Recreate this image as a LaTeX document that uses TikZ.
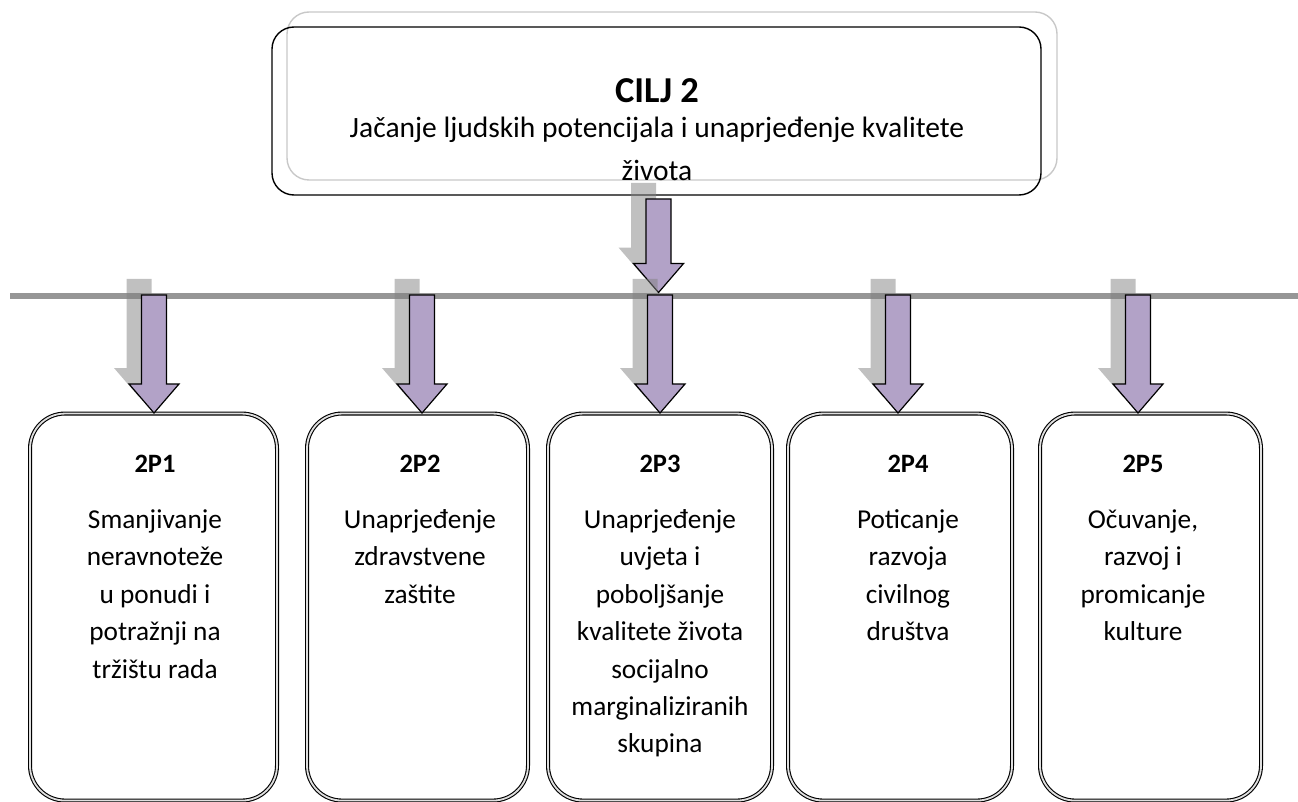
\documentclass[tikz,border=0pt]{standalone}
\usepackage{fontspec}
\setmainfont{Carlito}
\usetikzlibrary{calc}
\definecolor{arrowc}{HTML}{B2A2C7}
\definecolor{shadowc}{HTML}{818181}
\definecolor{barc}{HTML}{969696}
\definecolor{ghostc}{HTML}{C8C8C8}
\tikzset{
  goalbox/.style={draw=black, line width=1.4pt, rounded corners=22pt, inner sep=0pt},
  ghostbox/.style={draw=ghostc, line width=1.4pt, rounded corners=22pt},
  prbox/.style={draw=black, line width=1.1pt, double=gray!25, double distance=1.8pt,
    rounded corners=35pt, minimum height=387pt, inner sep=0pt, anchor=north},
  prtitle/.style={font=\bfseries\fontsize{26.5}{30}\selectfont, anchor=base, inner sep=0pt},
  prtext/.style={font=\fontsize{27.3}{37.45}\selectfont, align=center, anchor=north, inner sep=0pt},
  bigtitle/.style={font=\bfseries\fontsize{36.5}{40}\selectfont, anchor=base, inner sep=0pt},
  bigtext/.style={font=\fontsize{29.5}{43}\selectfont, align=center, anchor=north, inner sep=0pt},
}
\newcommand\blockarrow[2]{%
  \fill[shadowc, opacity=.5] let \p1=(#1), \p2=(#2) in
    (\x1-27.5pt,\y1+16pt) -- (\x1-2.5pt,\y1+16pt) -- (\x1-2.5pt,\y2+45pt)
    -- (\x1+10pt,\y2+45pt) -- (\x1-15pt,\y2+16pt) -- (\x1-40pt,\y2+45pt)
    -- (\x1-27.5pt,\y2+45pt) -- cycle;
  \filldraw[fill=arrowc, draw=black, line width=1.2pt, line join=miter] let \p1=(#1), \p2=(#2) in
    (\x1-12.5pt,\y1) -- (\x1+12.5pt,\y1) -- (\x1+12.5pt,\y2+29pt)
    -- (\x1+25pt,\y2+29pt) -- (\x1,\y2) -- (\x1-25pt,\y2+29pt)
    -- (\x1-12.5pt,\y2+29pt) -- cycle;
}
\begin{document}
\begin{tikzpicture}[x=1pt,y=-1pt]
\useasboundingbox (0,0) rectangle (1298,802);
% top goal box
\draw[ghostbox] (287,12) rectangle (1057,180);
\node[goalbox, minimum width=769pt, minimum height=168pt] (goal) at (656.5,111) {};
\node[bigtitle] (goalt) at (657,103) {CILJ 2};
\node[bigtext] (goald) at (657,137-30.1) {\strut Jačanje ljudskih potencijala i unaprjeđenje kvalitete\\života};
% horizontal bar
\node[fill=barc, minimum width=1288pt, minimum height=6.5pt, inner sep=0pt] (bar) at (654,296) {};
% bottom boxes
\node[prbox, minimum width=247pt] (b1) at (153.5,413) {};
\node[prbox, minimum width=221pt] (b2) at (417.5,413) {};
\node[prbox, minimum width=224pt] (b3) at (660,413) {};
\node[prbox, minimum width=224pt] (b4) at (900,413) {};
\node[prbox, minimum width=221pt] (b5) at (1150.5,413) {};
% arrow start points
\coordinate (a0) at (658.5,199);
\coordinate (a1) at (154,295);
\coordinate (a2) at (422,295);
\coordinate (a3) at (660,295);
\coordinate (a4) at (898,295);
\coordinate (a5) at (1138,295);
\blockarrow{a0}{bar.north}
\blockarrow{a1}{b1.north}
\blockarrow{a2}{b2.north}
\blockarrow{a3}{b3.north}
\blockarrow{a4}{b4.north}
\blockarrow{a5}{b5.north}
% texts
\node[prtitle] (t1) at (155,472) {2P1};
\node[prtext] (d1) at (155,528-26.2) {\strut Smanjivanje\\neravnoteže\\u ponudi i\\potražnji na\\tržištu rada};
\node[prtitle] (t2) at (420,472) {2P2};
\node[prtext] (d2) at (420,528-26.2) {\strut Unaprjeđenje\\zdravstvene\\zaštite};
\node[prtitle] (t3) at (660,472) {2P3};
\node[prtext] (d3) at (660,528-26.2) {\strut Unaprjeđenje\\uvjeta i\\poboljšanje\\kvalitete života\\socijalno\\marginaliziranih\\skupina};
\node[prtitle] (t4) at (908,472) {2P4};
\node[prtext] (d4) at (908,528-26.2) {\strut Poticanje\\razvoja\\civilnog\\društva};
\node[prtitle] (t5) at (1143,472) {2P5};
\node[prtext] (d5) at (1143,528-26.2) {\strut Očuvanje,\\razvoj i\\promicanje\\kulture};
\end{tikzpicture}
\end{document}
